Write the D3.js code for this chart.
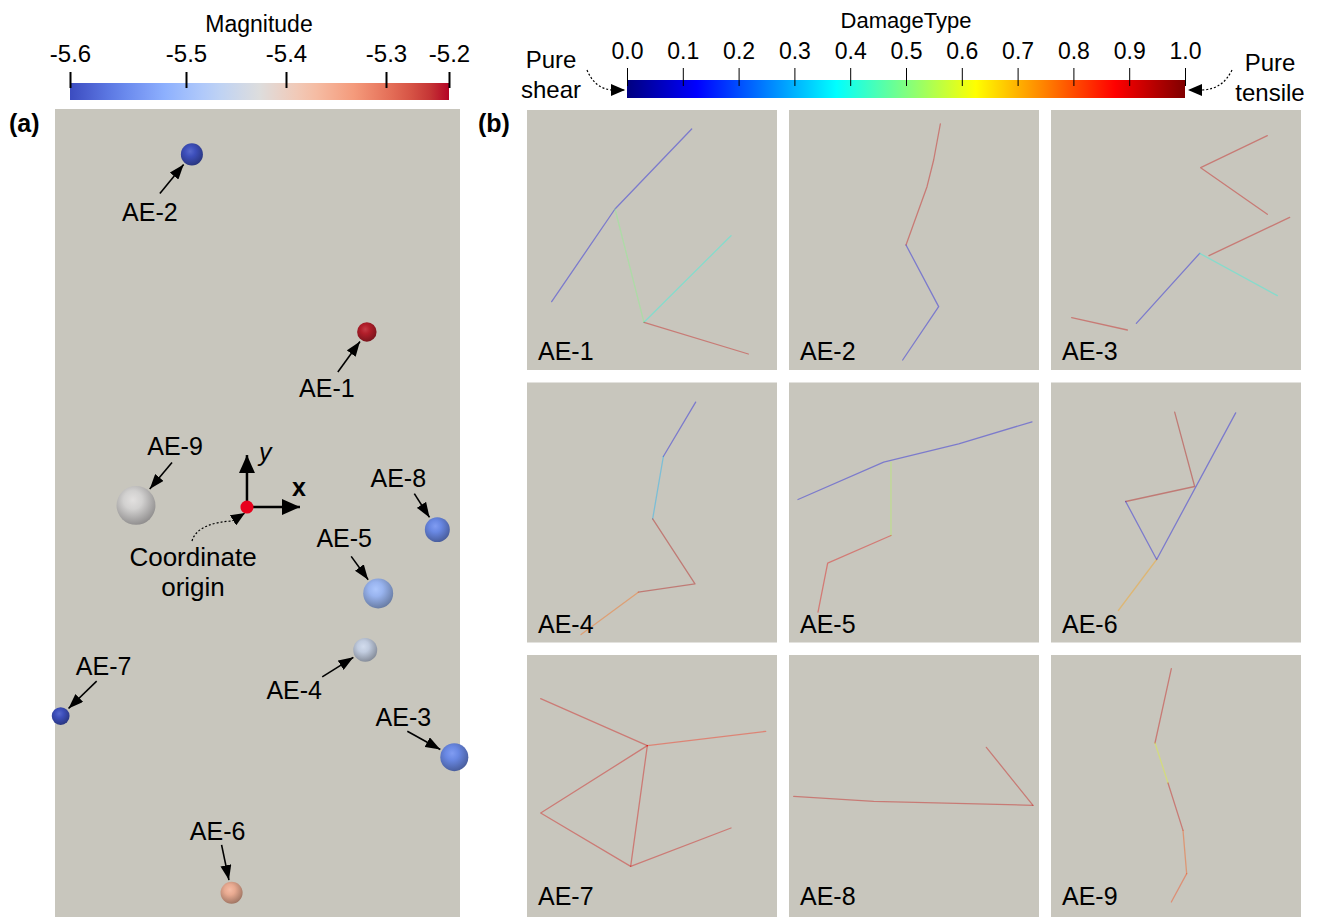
<!DOCTYPE html>
<html><head><meta charset="utf-8">
<script src="https://cdn.jsdelivr.net/npm/d3@7"></script>
<style>
body{margin:0;background:#fff}
text{font-family:"Liberation Sans",Arial,sans-serif;fill:#000}
</style>
</head><body>
<svg id="fig" width="1322" height="917"></svg>
<script>
// ---------------- DATA ----------------
const events   = ["AE-1","AE-2","AE-3","AE-4","AE-5","AE-6","AE-7","AE-8","AE-9"];
const eventX   = [14.8, -6.8, 25.6, 14.6, 16.2, -1.9, -23.0, 23.5, -13.7];   // mm
const eventY   = [21.7, 43.7, -31.0, -17.7, -10.7, -47.8, -25.9, -2.8, 0.2]; // mm
const eventMag = [-5.245, -5.61, -5.555, -5.45, -5.50, -5.36, -5.61, -5.555, -5.425];
const eventSize= [1.2, 1.36, 1.73, 1.48, 1.85, 1.36, 1.1, 1.54, 2.4];        // mm radius
const magRange = [-5.616, -5.237];
const magTicks = [-5.5, -5.4, -5.3];
const damageTicks = [0,0.1,0.2,0.3,0.4,0.5,0.6,0.7,0.8,0.9,1.0];

// crack networks (local image units of each sub-panel), d = DamageType
const crackAE1 = [
  {d:0.1, pts:[[500,57],[270,297],[80,575]]},
  {d:0.5, pts:[[270,297],[357,637]]},
  {d:0.4, pts:[[357,637],[618,377]]},
  {d:0.93,pts:[[357,637],[670,732]]}];
const crackAE2 = [
  {d:0.93,pts:[[460,42],[440,150],[420,230],[357,405]]},
  {d:0.1, pts:[[357,405],[455,590],[347,750]]}];
const crackAE3 = [
  {d:0.93,pts:[[655,77],[455,173],[655,313]]},
  {d:0.93,pts:[[722,322],[480,437]]},
  {d:0.1, pts:[[262,640],[452,430]]},
  {d:0.4, pts:[[452,430],[685,557]]},
  {d:0.93,pts:[[68,623],[235,660]]}];
const crackAE4 = [
  {d:0.1, pts:[[512,65],[415,228]]},
  {d:0.3, pts:[[415,228],[383,415]]},
  {d:0.95,pts:[[383,415],[510,610],[340,635]]},
  {d:0.78,pts:[[340,635],[168,762]]}];
const crackAE5 = [
  {d:0.1, pts:[[33,357],[290,245],[515,190],[735,124]]},
  {d:0.55,pts:[[312,245],[312,465]]},
  {d:0.9, pts:[[312,465],[122,548],[93,695]]}];
const crackAE6 = [
  {d:0.95,pts:[[377,95],[437,318],[230,363]]},
  {d:0.1, pts:[[560,97],[323,537]]},
  {d:0.1, pts:[[230,363],[323,537]]},
  {d:0.72,pts:[[323,537],[208,690]]}];
const crackAE7 = [
  {d:0.92,pts:[[47,137],[367,278]]},
  {d:0.85,pts:[[367,278],[722,235]]},
  {d:0.92,pts:[[367,278],[47,480],[317,640],[618,525]]},
  {d:0.92,pts:[[367,278],[317,640]]}];
const crackAE8 = [
  {d:0.93,pts:[[20,430],[260,445],[738,457]]},
  {d:0.93,pts:[[738,457],[598,283]]}];
const crackAE9 = [
  {d:0.93,pts:[[367,47],[318,270]]},
  {d:0.6, pts:[[318,270],[357,390]]},
  {d:0.93,pts:[[357,390],[402,532]]},
  {d:0.8, pts:[[402,532],[413,662]]},
  {d:0.82,pts:[[413,662],[367,747]]}];
const crackSets = [crackAE1,crackAE2,crackAE3,crackAE4,crackAE5,crackAE6,crackAE7,crackAE8,crackAE9];

// ---------------- COLORMAPS ----------------
const coolwarm = d3.scaleLinear()
  .domain([0,.125,.25,.375,.5,.625,.75,.875,1])
  .range(["#3b4cc0","#6282ea","#8db0fe","#b8d0f9","#dddddd","#f5c4ad","#f49a7b","#de604d","#b40426"])
  .interpolate(d3.interpolateLab);
function jet(t){
  const c = v => Math.max(0, Math.min(1, v));
  return d3.rgb(255*c(1.5-Math.abs(4*t-3)), 255*c(1.5-Math.abs(4*t-2)), 255*c(1.5-Math.abs(4*t-1))).formatHex();
}
const magColor = v => coolwarm((v - magRange[0])/(magRange[1]-magRange[0]));

// ---------------- SVG ----------------
const svg = d3.select("#fig");
const defs = svg.append("defs");
function arrowMarker(id, len, wid){
  defs.append("marker").attr("id",id).attr("markerUnits","userSpaceOnUse")
    .attr("markerWidth",len).attr("markerHeight",wid).attr("refX",len).attr("refY",wid/2)
    .attr("orient","auto").attr("viewBox",`0 0 ${len} ${wid}`)
    .append("path").attr("d",`M0,0L${len},${wid/2}L0,${wid}Z`).attr("fill","#000");
}
arrowMarker("ah",15,11);
arrowMarker("ahBig",18,16);
arrowMarker("ahSmall",14,12);

// ---- Magnitude colorbar ----
const magX = d3.scaleLinear().domain(magRange).range([70,449]);
const gm = defs.append("linearGradient").attr("id","gMag");
d3.range(0,1.0001,0.05).forEach(t=>gm.append("stop").attr("offset",t).attr("stop-color",coolwarm(t)));
svg.append("rect").attr("x",70).attr("y",83).attr("width",379).attr("height",17).attr("fill","url(#gMag)");
const magAxis = d3.axisTop(magX).tickValues([magRange[0],...magTicks,magRange[1]])
  .tickFormat(d=>d.toFixed(1)).tickSize(16).tickPadding(10);
const gma = svg.append("g").attr("transform","translate(0,88)").call(magAxis);
gma.select(".domain").remove();
gma.selectAll(".tick line").attr("stroke","#000").attr("stroke-width",2);
gma.selectAll(".tick text").style("font-size","24px").style("font-family","Liberation Sans, Arial, sans-serif");
svg.append("text").attr("x",259).attr("y",32).attr("text-anchor","middle").style("font-size","23px").text("Magnitude");

// ---- DamageType colorbar ----
const dmgX = d3.scaleLinear().domain([0,1]).range([627,1185]);
const gd = defs.append("linearGradient").attr("id","gDmg");
d3.range(0,1.0001,0.025).forEach(t=>gd.append("stop").attr("offset",t).attr("stop-color",jet(t)));
svg.append("rect").attr("x",627).attr("y",80).attr("width",558).attr("height",18).attr("fill","url(#gDmg)");
const dmgAxis = d3.axisTop(dmgX).tickValues(damageTicks).tickFormat(d=>d.toFixed(1)).tickSize(18).tickPadding(9);
const gda = svg.append("g").attr("transform","translate(0,86)").call(dmgAxis);
gda.select(".domain").remove();
gda.selectAll(".tick line").attr("stroke","#000").attr("stroke-width",1);
gda.selectAll(".tick text").style("font-size","23px").style("font-family","Liberation Sans, Arial, sans-serif");
svg.append("text").attr("x",906).attr("y",28).attr("text-anchor","middle").style("font-size","22px").text("DamageType");

svg.append("text").attr("x",551).attr("y",68).attr("text-anchor","middle").style("font-size","24px").text("Pure");
svg.append("text").attr("x",551).attr("y",98).attr("text-anchor","middle").style("font-size","24px").text("shear");
svg.append("text").attr("x",1270).attr("y",71).attr("text-anchor","middle").style("font-size","24px").text("Pure");
svg.append("text").attr("x",1270).attr("y",101).attr("text-anchor","middle").style("font-size","24px").text("tensile");
svg.append("path").attr("d","M587,70C592,82 600,89 612,90L625,90").attr("fill","none")
  .attr("stroke","#000").attr("stroke-width",1.2).attr("stroke-dasharray","2,2").attr("marker-end","url(#ahSmall)");
svg.append("path").attr("d","M1232,70C1226,82 1218,89 1202,90L1188,90").attr("fill","none")
  .attr("stroke","#000").attr("stroke-width",1.2).attr("stroke-dasharray","2,2").attr("marker-end","url(#ahSmall)");

// ---- Panel labels ----
svg.append("text").attr("x",9).attr("y",132).style("font-size","25px").style("font-weight","bold").text("(a)");
svg.append("text").attr("x",478).attr("y",132).style("font-size","25px").style("font-weight","bold").text("(b)");

// ---- Panel (a) ----
const bg = "#c8c6bd";
svg.append("rect").attr("x",55).attr("y",109).attr("width",405).attr("height",808).attr("fill",bg);
const ax = d3.scaleLinear().domain([-23.7, 26.3]).range([55,460]);
const ay = d3.scaleLinear().domain([49.2, -50.8]).range([110,917]);
const pxPerMm = ax(1)-ax(0);

// annotation layout (offsets from sphere centre, px): label, arrow tail
const annLabel = [[-40,65],[-42,67],[-51,-31],[-71,49],[-34,-46],[-14,-53],[43,-41],[-39,-43],[39,-50]];
const annTail  = [[-29,40],[-32,39],[-47,-26],[-43,27],[-27,-37],[-10,-48],[36,-35],[-23,-36],[36,-43]];

events.forEach((e,i)=>{
  const cx = ax(eventX[i]), cy = ay(eventY[i]), r = eventSize[i]*pxPerMm;
  const base = d3.color(magColor(eventMag[i]));
  const g = defs.append("radialGradient").attr("id","sph"+i).attr("cx","42%").attr("cy","36%").attr("r","68%");
  g.append("stop").attr("offset","0%").attr("stop-color",d3.interpolateRgb(base,"#ffffff")(0.12));
  g.append("stop").attr("offset","35%").attr("stop-color",base.darker(0.15).formatHex());
  g.append("stop").attr("offset","100%").attr("stop-color",base.darker(1.3).formatHex());
  svg.append("circle").attr("cx",cx).attr("cy",cy).attr("r",r).attr("fill",`url(#sph${i})`);
  const [lx,ly] = annLabel[i], [tx,ty] = annTail[i];
  const L = Math.hypot(tx,ty), k=(r+2)/L;
  svg.append("line").attr("x1",cx+tx).attr("y1",cy+ty).attr("x2",cx+tx*k).attr("y2",cy+ty*k)
    .attr("stroke","#000").attr("stroke-width",1.6).attr("marker-end","url(#ah)");
  svg.append("text").attr("x",cx+lx).attr("y",cy+ly).attr("text-anchor","middle").style("font-size","25px").text(e);
});

// coordinate origin
const ox = ax(0), oy = ay(0);
svg.append("line").attr("x1",ox).attr("y1",oy).attr("x2",ox).attr("y2",oy-52)
  .attr("stroke","#000").attr("stroke-width",2.5).attr("marker-end","url(#ahBig)");
svg.append("line").attr("x1",ox).attr("y1",oy).attr("x2",ox+53).attr("y2",oy)
  .attr("stroke","#000").attr("stroke-width",2.5).attr("marker-end","url(#ahBig)");
svg.append("circle").attr("cx",ox).attr("cy",oy).attr("r",6.5).attr("fill","#e8001c");
svg.append("text").attr("x",ox+12).attr("y",oy-46).style("font-size","25px").style("font-style","italic").text("y");
svg.append("text").attr("x",ox+45).attr("y",oy-11).style("font-size","25px").style("font-weight","bold").text("x");
svg.append("text").attr("x",193).attr("y",566).attr("text-anchor","middle").style("font-size","26px").text("Coordinate");
svg.append("text").attr("x",193).attr("y",596).attr("text-anchor","middle").style("font-size","26px").text("origin");
svg.append("path").attr("d",`M192,541C196,527 214,522 232,521L${ox-2},${oy+6}`).attr("fill","none")
  .attr("stroke","#000").attr("stroke-width",1.2).attr("stroke-dasharray","2,2").attr("marker-end","url(#ahSmall)");

// ---- Panel (b) ----
const line = d3.line();
events.forEach((e,i)=>{
  const c = i%3, rIdx = Math.floor(i/3);
  const x0 = 527 + c*262, y0 = 110 + rIdx*272.5;
  const h = rIdx===2 ? 917-y0 : 260;
  svg.append("rect").attr("x",x0).attr("y",y0).attr("width",250).attr("height",h).attr("fill",bg);
  const sx = d3.scaleLinear().domain([0,765]).range([x0-2, x0-2+255]);
  const sy = d3.scaleLinear().domain([0,786]).range([y0-(rIdx?2:0), y0-(rIdx?2:0)+262]);
  line.x(p=>sx(p[0])).y(p=>sy(p[1]));
  crackSets[i].forEach(s=>{
    svg.append("path").attr("d",line(s.pts)).attr("fill","none")
      .attr("stroke",jet(s.d)).attr("stroke-opacity",0.38).attr("stroke-width",1.3)
      .attr("stroke-linejoin","round").attr("stroke-linecap","round");
  });
  svg.append("text").attr("x",x0+11).attr("y",y0+250).style("font-size","25px").text(e);
});
</script>
</body></html>
